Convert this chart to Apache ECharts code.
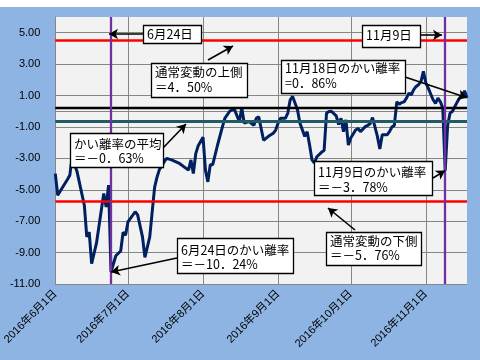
<!DOCTYPE html>
<html>
<head>
<meta charset="utf-8">
<script src="https://cdn.jsdelivr.net/npm/echarts@6/dist/echarts.min.js"></script>
<style>html,body{margin:0;padding:0;background:#fff}#c{width:480px;height:360px}</style>
</head>
<body>
<div id="c"></div>
<script>
// ---- data ----
const dates = ['6/1','6/2','6/3','6/6','6/7','6/8','6/9','6/10','6/13','6/14','6/15','6/16','6/18','6/21','6/22','6/23','6/24','6/26','6/28','6/29','6/30',
'7/1','7/4','7/5','7/7','7/8','7/10','7/12','7/13','7/14','7/15','7/16','7/17','7/19','7/22','7/26','7/27','7/28','7/29','7/30',
'8/1','8/2','8/3','8/4','8/5','8/7','8/9','8/10','8/12','8/13','8/14','8/16','8/17','8/18','8/19','8/20','8/22','8/23','8/24','8/26','8/28','8/30','8/31',
'9/1','9/2','9/4','9/5','9/6','9/7','9/9','9/10','9/12','9/13','9/14','9/15','9/16','9/17','9/19','9/20','9/21','9/22','9/23','9/25','9/26','9/27','9/28','9/29','9/30',
'10/1','10/3','10/4','10/5','10/7','10/8','10/9','10/10','10/12','10/13','10/14','10/16','10/17','10/18','10/19','10/20','10/21','10/22','10/23','10/24','10/25','10/26','10/27','10/28','10/29','10/30','10/31',
'11/1','11/2','11/4','11/5','11/6','11/7','11/8','11/9','11/10','11/11','11/12','11/13','11/14','11/15','11/16','11/17','11/18'];
const values = [-3.97,-5.35,-5.1,-4.35,-4.07,-2.8,-3.43,-3.86,-6.0,-8.0,-7.7,-9.7,-8.4,-5.24,-6.1,-4.7,-10.24,-9.2,-8.9,-7.7,-7.9,
-7.05,-6.4,-6.6,-8.0,-9.3,-8.0,-4.85,-4.2,-3.7,-3.5,-3.2,-3.0,-3.1,-3.3,-3.75,-3.1,-3.97,-2.7,-2.2,
-1.65,-3.75,-4.5,-3.4,-3.4,-2.15,-1.0,-0.45,0.0,0.1,0.1,-0.66,0.2,-0.75,-0.7,-0.66,-0.9,-0.45,-0.35,-1.85,-1.6,-1.4,-1.2,
-0.75,-0.45,-0.45,-0.12,0.73,0.94,0.09,-0.75,-1.6,-1.3,-2.15,-3.1,-3.3,-2.9,-2.6,-2.5,-0.12,-0.02,0.0,-0.3,-0.85,-0.45,-1.3,-0.55,-2.15,
-1.7,-1.2,-1.1,-1.3,-0.98,-0.9,-0.8,-0.4,-1.6,-2.4,-1.5,-1.5,-1.3,-1.0,-0.9,0.6,0.45,0.55,0.6,0.83,1.15,1.05,1.37,1.58,1.69,1.9,2.54,
1.8,1.47,0.73,0.5,0.83,0.6,0.2,-3.78,-0.9,-0.12,0.0,0.3,0.6,0.85,1.0,1.3,0.86];
const upperBand = 4.50;
const lowerBand = -5.76;
const meanValue = -0.63;
const baseLine = 0.25;
const eventDates = ['6/24','11/9'];
const lastDate = '11/18', lastValue = 0.86;
const minDate = '6/24', minValue = -10.24;
const novDate = '11/9', novValue = -3.78;
const yTicks = {min: -11, max: 6, interval: 2};

// calendar categories Jun 1 .. Nov 18 2016
const categories = [];
for (let t = Date.UTC(2016,5,1); t <= Date.UTC(2016,10,18); t += 86400000) {
  const d = new Date(t);
  categories.push((d.getUTCMonth()+1) + '/' + d.getUTCDate());
}
const isMonthStart = (i, v) => /\/1$/.test(v);

const FONT = "'Noto Sans CJK JP', sans-serif";
const boxes = [
  {x:143,y:25,w:58,h:18,lines:[['6月24日',34]]},
  {x:362,y:25,w:58,h:22,lines:[['11月9日',35.5]]},
  {x:151,y:63,w:96,h:34,lines:[['通常変動の上側',72.5],['＝4．50%',87.5]]},
  {x:281,y:60,w:124,h:33,lines:[['11月18日のかい離率',68],['=0．86%',83.5]]},
  {x:70,y:133,w:93,h:34,lines:[['かい離率の平均',144],['＝－0．63%',158]]},
  {x:177,y:238,w:116,h:35,lines:[['6月24日のかい離率',250],['＝－10．24%',264]]},
  {x:314,y:161,w:118,h:34,lines:[['11月9日のかい離率',172.5],['＝－3．78%',187.5]]},
  {x:326,y:232,w:95,h:33,lines:[['通常変動の下側',241.5],['＝－5．76%',255.5]]}
];
const graphics = [{type:'rect', shape:{x:0,y:0,width:480,height:7}, style:{fill:'#fff'}, z:1}];
boxes.forEach(b => {
  graphics.push({type:'rect', z:100, shape:{x:b.x+0.5,y:b.y+0.5,width:b.w,height:b.h}, style:{fill:'#fff',stroke:'#000',lineWidth:1.3}});
  b.lines.forEach(l => graphics.push({type:'text', z:101, x:b.x+4, y:l[1],
    style:{text:l[0], font:"12.5px " + FONT, fill:'#000', textVerticalAlign:'middle', verticalAlign:'middle'}}));
});

const arrow = (from, to) => [Object.assign({symbol:'none'}, from), Object.assign({symbol:'arrow', symbolSize:[8,9]}, to)];
const markData = [
  {yAxis: upperBand, lineStyle:{color:'#FF0000', width:2.5, type:'solid'}},
  {yAxis: lowerBand, lineStyle:{color:'#FF0000', width:2.5, type:'solid'}},
  {yAxis: baseLine, lineStyle:{color:'#000000', width:2.3, type:'solid'}},
  {yAxis: meanValue, lineStyle:{color:'#215C66', width:3, type:'solid'}},
  {xAxis: eventDates[0], lineStyle:{color:'#7030A0', width:2.3, type:'solid'}},
  {xAxis: eventDates[1], lineStyle:{color:'#7030A0', width:2.3, type:'solid'}},
  arrow({x:143,y:34}, {x:109,y:34}),
  arrow({x:420,y:35}, {x:442,y:35}),
  arrow({x:208,y:60}, {x:233,y:46}),
  arrow({x:405,y:77}, {coord:[lastDate, lastValue]}),
  arrow({x:163,y:148}, {x:186,y:124}),
  arrow({x:177,y:258}, {coord:[minDate, minValue]}),
  arrow({x:433,y:178}, {coord:[novDate, novValue]}),
  arrow({x:355,y:230}, {x:328,y:208})
];

const chart = echarts.init(document.getElementById('c'));
chart.setOption({
  animation: false,
  backgroundColor: '#8EB4E3',
  grid: {left:49, right:13, top:17, bottom:76, show:true, backgroundColor:'#F2F2F2', borderWidth:0},
  xAxis: {
    type:'category', data: categories, boundaryGap:false,
    axisLine:{show:true, lineStyle:{color:'#868686', width:1}},
    axisTick:{show:false},
    splitLine:{show:true, interval:isMonthStart, lineStyle:{color:'#868686', width:1}},
    axisLabel:{interval:isMonthStart, rotate:45, margin:8, color:'#000',
      fontSize:11, fontFamily:"'Liberation Sans', 'Noto Sans CJK JP'",
      formatter: v => { const m = v.split('/')[0]; return '2016年' + m + '月1日'; }}
  },
  yAxis: {
    type:'value', min:yTicks.min, max:yTicks.max, interval:yTicks.interval,
    axisLine:{show:true, lineStyle:{color:'#868686', width:1}},
    axisTick:{show:false},
    splitLine:{show:true, showMaxLine:false, lineStyle:{color:'#868686', width:1}},
    axisLabel:{showMaxLabel:false, margin:15, color:'#000', fontSize:11, fontFamily:"'Liberation Sans', Arial",
      formatter: v => v.toFixed(2)}
  },
  graphic: graphics,
  series: [{
    type:'line', data: dates.map((d,i) => [d, values[i]]),
    showSymbol:false, symbol:'none',
    lineStyle:{color:'#002060', width:3}, z:2,
    markLine:{silent:true, animation:false, symbol:['none','none'], label:{show:false}, emphasis:{disabled:true},
      lineStyle:{color:'#000', width:1.6, type:'solid'}, data: markData}
  }]
});
</script>
</body>
</html>
